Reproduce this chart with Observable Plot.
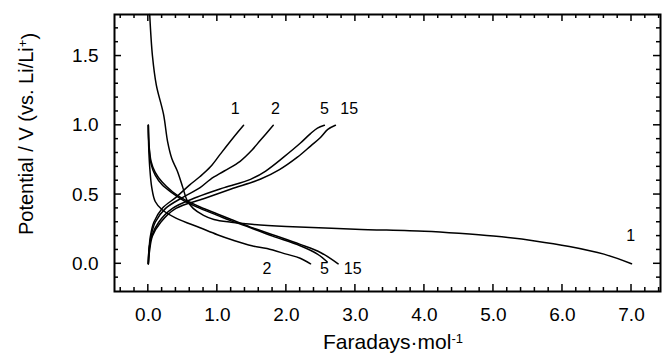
<!DOCTYPE html>
<html>
<head>
<meta charset="utf-8">
<script src="https://cdn.jsdelivr.net/npm/d3@7"></script>
<script src="https://cdn.jsdelivr.net/npm/@observablehq/plot@0.6"></script>
<style>
  html, body { margin: 0; padding: 0; background: #fff; }
  #chart { width: 662px; height: 355px; }
</style>
</head>
<body>
<div id="chart"></div>
<script>
// ---- Data ----
// Discharge curves (potential decreasing)
const dis1X = [0.02, 0.06, 0.116, 0.22, 0.28, 0.34, 0.42, 0.5, 0.56, 0.65, 0.8, 0.95, 1.2, 1.5, 2.0, 3.0, 4.0, 4.5, 5.0, 5.6, 6.1, 6.6, 7.0];
const dis1Y = [1.8, 1.5, 1.29, 1.08, 0.88, 0.76, 0.67, 0.55, 0.46, 0.4, 0.35, 0.32, 0.3, 0.285, 0.27, 0.25, 0.235, 0.22, 0.2, 0.165, 0.125, 0.07, 0.0];
const dis2X = [0, 0.005, 0.02, 0.05, 0.1, 0.2, 0.4, 0.75, 1.0, 1.23, 1.5, 1.72, 2.0, 2.2, 2.35];
const dis2Y = [1.0, 0.85, 0.7, 0.55, 0.45, 0.39, 0.33, 0.26, 0.21, 0.17, 0.13, 0.11, 0.07, 0.04, 0.0];
const dis5X = [0, 0.01, 0.04, 0.1, 0.2, 0.35, 0.5, 0.75, 1.0, 1.2, 1.48, 1.8, 2.2, 2.45, 2.59];
const dis5Y = [1.0, 0.85, 0.72, 0.64, 0.57, 0.51, 0.46, 0.4, 0.35, 0.31, 0.26, 0.2, 0.13, 0.07, 0.015];
const dis15X = [0, 0.01, 0.04, 0.1, 0.2, 0.35, 0.5, 0.75, 1.0, 1.2, 1.48, 1.8, 2.2, 2.5, 2.75];
const dis15Y = [1.0, 0.86, 0.74, 0.66, 0.59, 0.52, 0.47, 0.41, 0.36, 0.32, 0.265, 0.21, 0.14, 0.08, 0.0];
// Charge curves (potential increasing)
const ch1X = [0, 0.01, 0.03, 0.08, 0.2, 0.4, 0.6, 0.75, 0.9, 1.04, 1.23, 1.38];
const ch1Y = [0, 0.1, 0.2, 0.3, 0.4, 0.48, 0.57, 0.63, 0.7, 0.79, 0.91, 1.0];
const ch2X = [0, 0.01, 0.04, 0.1, 0.25, 0.5, 0.75, 0.9, 1.1, 1.33, 1.5, 1.62, 1.81];
const ch2Y = [0, 0.1, 0.2, 0.3, 0.4, 0.48, 0.55, 0.61, 0.67, 0.74, 0.82, 0.89, 1.0];
const ch5X = [0, 0.01, 0.05, 0.15, 0.35, 0.7, 1.1, 1.48, 1.7, 1.96, 2.2, 2.35, 2.45, 2.55];
const ch5Y = [0, 0.1, 0.2, 0.3, 0.4, 0.48, 0.55, 0.61, 0.67, 0.77, 0.87, 0.94, 0.98, 1.0];
const ch15X = [0, 0.02, 0.06, 0.18, 0.4, 0.8, 1.2, 1.62, 1.9, 2.16, 2.35, 2.49, 2.6, 2.71];
const ch15Y = [0, 0.1, 0.2, 0.3, 0.4, 0.47, 0.54, 0.61, 0.68, 0.77, 0.85, 0.91, 0.97, 1.0];

// Cycle labels
const labelText = ["1", "2", "5", "15", "2", "5", "15", "1"];
const labelX = [1.26, 1.84, 2.55, 2.91, 1.72, 2.55, 2.96, 6.99];
const labelY = [1.12, 1.12, 1.12, 1.12, -0.036, -0.036, -0.036, 0.2];

// Axis ticks
const xTicks = [0, 1, 2, 3, 4, 5, 6, 7];
const yTicks = [0, 0.5, 1.0, 1.5];
const xMinor = [-0.4, -0.2, 0.2, 0.4, 0.6, 0.8, 1.2, 1.4, 1.6, 1.8, 2.2, 2.4, 2.6, 2.8, 3.2, 3.4, 3.6, 3.8, 4.2, 4.4, 4.6, 4.8, 5.2, 5.4, 5.6, 5.8, 6.2, 6.4, 6.6, 6.8, 7.2, 7.4];
const yMinor = [-0.1, 0.1, 0.2, 0.3, 0.4, 0.6, 0.7, 0.8, 0.9, 1.1, 1.2, 1.3, 1.4, 1.6, 1.7];

const xTitle = "Faradays·mol";
const xTitleSup = "-1";
const yTitle = "Potential / V (vs. Li/Li";
const yTitleSup = "+";

// ---- Build tables ----
const zip = (xs, ys) => xs.map((x, i) => ({x, y: ys[i]}));
const curves = [
  zip(dis1X, dis1Y), zip(dis2X, dis2Y), zip(dis5X, dis5Y), zip(dis15X, dis15Y),
  zip(ch1X, ch1Y), zip(ch2X, ch2Y), zip(ch5X, ch5Y), zip(ch15X, ch15Y)
];
const labels = labelText.map((t, i) => ({t, x: labelX[i], y: labelY[i]}));
const fmt = d3.format(".1f");
const font = "'Liberation Sans', Arial, Helvetica, sans-serif";

const W = 662, H = 355, ML = 114, MR = 2, MT = 14, MB = 64;
const xDom = [-0.49, 7.42], yDom = [-0.2, 1.8];
const majorLen = 7, minorLen = 4;

const svg = Plot.plot({
  width: W,
  height: H,
  marginLeft: ML,
  marginRight: MR,
  marginTop: MT,
  marginBottom: MB,
  style: {fontFamily: font, background: "#fff", color: "#000"},
  x: {domain: xDom, axis: null},
  y: {domain: yDom, axis: null},
  marks: [
    ...curves.map(c => Plot.line(c, {x: "x", y: "y", stroke: "#000", strokeWidth: 1.5, curve: "catmull-rom"})),
    Plot.text(labels, {x: "x", y: "y", text: "t", fontSize: 16, fill: "#000"}),
    // major tick labels
    Plot.axisX(xTicks, {anchor: "bottom", tickSize: 0, tickPadding: 16, tickFormat: fmt, fontSize: 19, label: null}),
    Plot.axisY(yTicks, {anchor: "left", tickSize: 0, tickPadding: 16, tickFormat: fmt, fontSize: 19, label: null}),
    Plot.frame({stroke: "#000", strokeWidth: 2})
  ]
});

// Inward ticks on all four sides, positioned with the plot's own scales
const sx = svg.scale("x"), sy = svg.scale("y");
const toX = v => sx.apply(v), toY = v => sy.apply(v);
const fLeft = toX(xDom[0]), fRight = toX(xDom[1]), fBottom = toY(yDom[0]), fTop = toY(yDom[1]);
const sel = d3.select(svg);
const tg = sel.append("g").attr("stroke", "#000").attr("stroke-width", 1.5);
const addV = (vals, len) => vals.forEach(v => {
  const px = toX(v);
  tg.append("line").attr("x1", px).attr("x2", px).attr("y1", fBottom).attr("y2", fBottom - len);
  tg.append("line").attr("x1", px).attr("x2", px).attr("y1", fTop).attr("y2", fTop + len);
});
const addH = (vals, len) => vals.forEach(v => {
  const py = toY(v);
  tg.append("line").attr("y1", py).attr("y2", py).attr("x1", fLeft).attr("x2", fLeft + len);
  tg.append("line").attr("y1", py).attr("y2", py).attr("x1", fRight).attr("x2", fRight - len);
});
addV(xTicks, majorLen); addV(xMinor, minorLen);
addH(yTicks, majorLen); addH(yMinor, minorLen);

// Axis titles with superscripts
const xt = sel.append("text")
  .attr("x", 393).attr("y", 349)
  .attr("text-anchor", "middle")
  .attr("font-family", font).attr("font-size", 21).attr("fill", "#000");
xt.append("tspan").text(xTitle);
xt.append("tspan").attr("dy", "-0.45em").attr("font-size", 13).text(xTitleSup);

const yt = sel.append("text")
  .attr("transform", "translate(33,134) rotate(-90)")
  .attr("text-anchor", "middle")
  .attr("font-family", font).attr("font-size", 20).attr("fill", "#000");
yt.append("tspan").text(yTitle);
yt.append("tspan").attr("dy", "-0.45em").attr("font-size", 13).text(yTitleSup);
yt.append("tspan").attr("dy", "0.45em").text(")");

document.getElementById("chart").appendChild(svg);
</script>
</body>
</html>
